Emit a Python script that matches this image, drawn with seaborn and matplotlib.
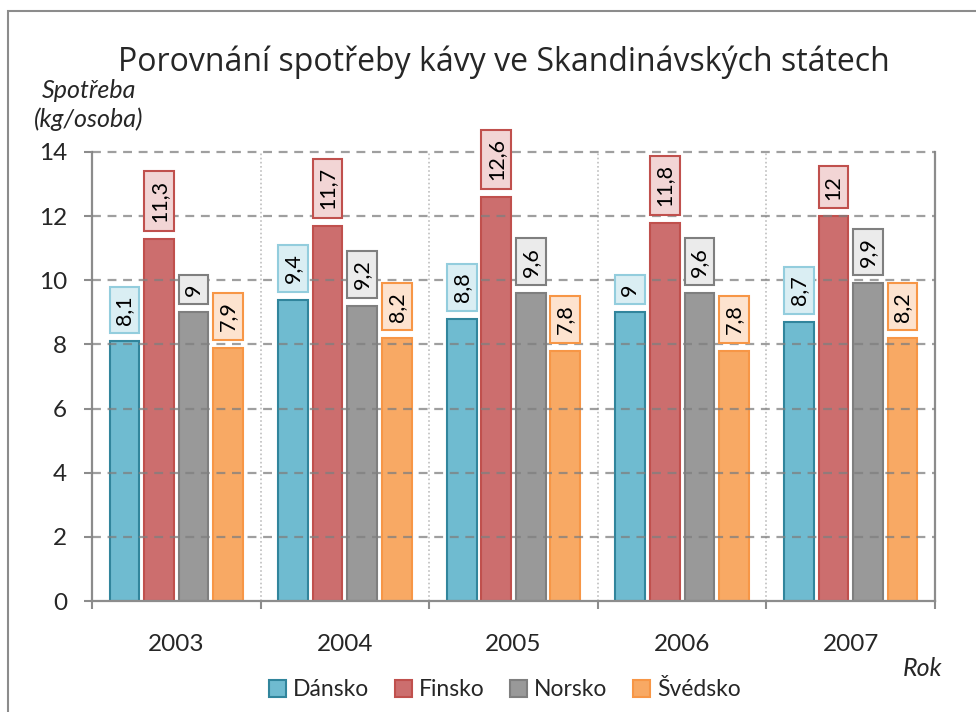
import matplotlib
matplotlib.use("Agg")
import matplotlib.pyplot as plt
import matplotlib.patches as mpatches
import seaborn as sns
import pandas as pd
import numpy as np

# Coffee consumption per person (kg) in Scandinavian countries
years = ["2003", "2004", "2005", "2006", "2007"]
countries = ["Dánsko", "Finsko", "Norsko", "Švédsko"]
dansko = [8.1, 9.4, 8.8, 9.0, 8.7]
finsko = [11.3, 11.7, 12.6, 11.8, 12.0]
norsko = [9.0, 9.2, 9.6, 9.6, 9.9]
svedsko = [7.9, 8.2, 7.8, 7.8, 8.2]
yticks = [0, 2, 4, 6, 8, 10, 12, 14]

fills = ["#6FBBD0", "#CC6E6E", "#999999", "#F8A964"]
edges = ["#31859C", "#C0504D", "#7F7F7F", "#F79646"]
box_fills = ["#DAEEF3", "#F2D5D5", "#EBEBEB", "#FDE3CF"]
box_edges = ["#93CDDD", "#C0504D", "#7F7F7F", "#F79646"]

df = pd.DataFrame({
    "Rok": years * 4,
    "Stát": sum([[c] * len(years) for c in countries], []),
    "Spotřeba": dansko + finsko + norsko + svedsko,
})

sns.set_theme(style="white")
plt.rcParams["font.family"] = ["Lato", "DejaVu Sans"]

fig = plt.figure(figsize=(9.76, 7.12), dpi=100)
ax = fig.add_axes([92 / 976, 1 - 601 / 712, (935 - 92) / 976, (601 - 152) / 712])

sns.barplot(data=df, x="Rok", y="Spotřeba", hue="Stát", order=years,
            hue_order=countries, palette=fills, saturation=1, width=0.82, gap=0.14,
            legend=False, ax=ax, zorder=2)

for cont, ec in zip(ax.containers, edges):
    for bar in cont:
        bar.set_edgecolor(ec)
        bar.set_linewidth(1.5)

ax.set_xlim(-0.5, len(years) - 0.5)
ax.set_ylim(0, 14)
ax.set_yticks(yticks)
ax.set_yticklabels([str(t) for t in yticks], fontsize=17.5)
ax.set_xticklabels(years, fontsize=17.5)
ax.set_xlabel("")
ax.set_ylabel("")

# dashed horizontal grid drawn over the bars
for t in yticks[1:]:
    ax.axhline(t, color="#7F7F7F", lw=1.6, ls=(0, (4, 3)), alpha=0.75,
               zorder=3, clip_on=False)
# dotted separators between years
for b in np.arange(0.5, len(years) - 0.5, 1):
    ax.axvline(b, color="#BFBFBF", lw=1.2, ls=(0, (1, 1.5)), zorder=1)

for side in ["left", "bottom", "right"]:
    ax.spines[side].set_color("#8C8C8C")
    ax.spines[side].set_linewidth(1.6)
ax.spines["top"].set_visible(False)

ax.tick_params(axis="y", which="major", direction="out", length=6, width=1.5,
               color="#8C8C8C", pad=12, left=True)
ax.tick_params(axis="x", which="major", length=0, pad=24)
ax.set_xticks(np.arange(-0.5, len(years), 1), minor=True)
ax.tick_params(axis="x", which="minor", direction="out", length=6, width=1.5,
               color="#8C8C8C", bottom=True)

# value labels: rotated text inside a box sitting above each bar
fig.canvas.draw()
renderer = fig.canvas.get_renderer()
to_data = ax.transData.inverted()
gap_px, pad_px = 8, 8.5
for cont, bf, be in zip(ax.containers, box_fills, box_edges):
    for bar in cont:
        h = bar.get_height()
        txt = f"{h:g}".replace(".", ",")
        x0, x1 = bar.get_x(), bar.get_x() + bar.get_width()
        t = ax.text((x0 + x1) / 2, h, txt, rotation=90, ha="center",
                    va="center", fontsize=15.5, color="black", zorder=5)
        length_px = t.get_window_extent(renderer).height
        top_px = ax.transData.transform((x0, h))[1]
        y_lo = to_data.transform((0, top_px + gap_px))[1]
        y_hi = to_data.transform((0, top_px + gap_px + length_px + 2 * pad_px))[1]
        t.set_y((y_lo + y_hi) / 2)
        ax.add_patch(mpatches.Rectangle((x0, y_lo), x1 - x0, y_hi - y_lo,
                                        fc=bf, ec=be, lw=1.5, zorder=4,
                                        clip_on=False))

fig.text(504 / 976, 1 - 62 / 712, "Porovnání spotřeby kávy ve Skandinávských státech",
         ha="center", va="center", fontsize=23, family=["Open Sans", "DejaVu Sans"])
fig.text(89 / 976, 1 - 105 / 712, "Spotřeba\n(kg/osoba)", ha="center", va="center",
         fontsize=18, style="italic", linespacing=1.3)
fig.text(942 / 976, 1 - 668 / 712, "Rok", ha="right", va="center",
         fontsize=18, style="italic")

handles = [mpatches.Patch(facecolor=f, edgecolor=e, lw=1.5, label=c)
           for f, e, c in zip(fills, edges, countries)]
fig.legend(handles=handles, loc="center", bbox_to_anchor=(505 / 976, 1 - 690 / 712),
           ncol=4, frameon=False, fontsize=16.5, handlelength=0.72, handleheight=0.72,
           handletextpad=0.32, columnspacing=1.12)

# outer chart frame
fig.add_artist(mpatches.Rectangle((8 / 976, -0.05), 1.1, 1 - 11 / 712 + 0.05,
                                  transform=fig.transFigure, fill=False,
                                  ec="#8C8C8C", lw=1.5))

fig.savefig("out.png", dpi=100)
